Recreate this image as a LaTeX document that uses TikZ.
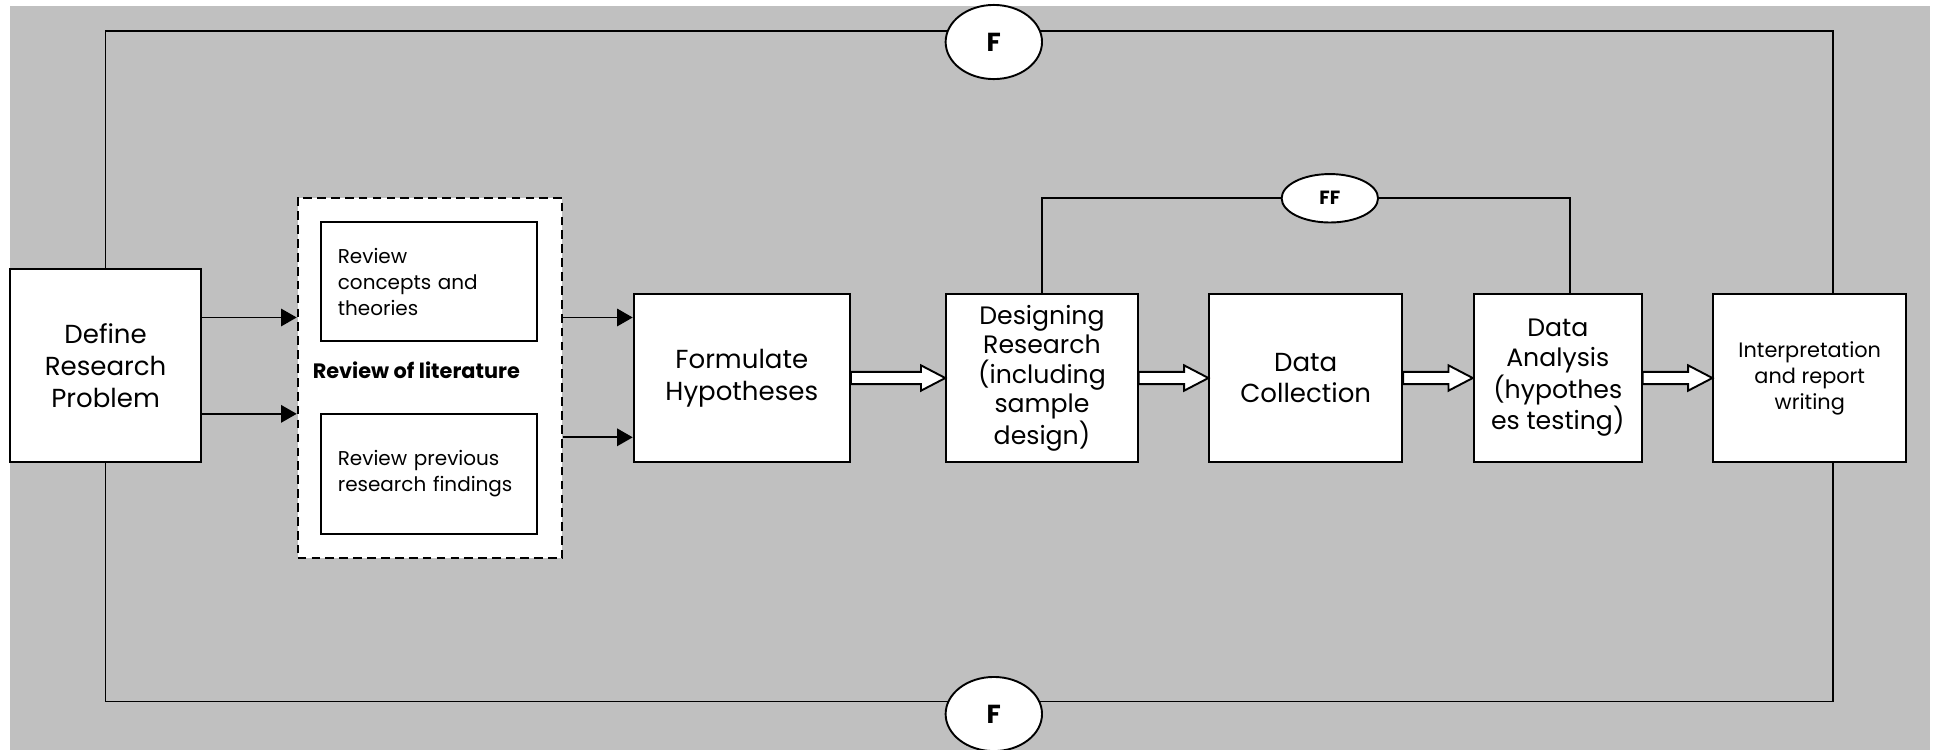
\documentclass[tikz,border=0pt]{standalone}
\usepackage{fontspec}
\setmainfont{Poppins}
\usetikzlibrary{arrows.meta, shapes.geometric, positioning, calc, backgrounds}
\definecolor{bggray}{RGB}{192,192,192}
\hyphenpenalty=10000

\begin{document}
\begin{tikzpicture}[x=0.025cm, y=-0.025cm,
    box/.style={rectangle, draw, line width=1.1pt, fill=white, align=center, inner sep=1pt, minimum height=3.4cm, font=\fontsize{15}{18.4}\selectfont},
    sub/.style={rectangle, draw, line width=1.1pt, fill=white, minimum width=4.375cm, text width=3.7cm, align=left, font=\fontsize{11.5}{15}\selectfont},
    lit/.style={rectangle, draw, line width=1.1pt, dash pattern=on 5pt off 3pt, fill=white, minimum width=5.35cm, minimum height=7.3cm},
    fb/.style={ellipse, draw, line width=1.1pt, fill=white, inner sep=0pt, font=\bfseries\fontsize{15}{15}\selectfont},
    arr/.style={-{Triangle[length=9pt,width=10pt]}, line width=1.1pt},
    hollow/.style={draw, line width=1.1pt, fill=white, to path={let \p1=(\tikztostart), \p2=(\tikztotarget) in
        (\x1,\y1+3.5pt) -- (\x2-14pt,\y1+3.5pt) -- (\x2-14pt,\y1+7.3pt) -- (\p2) -- (\x2-14pt,\y1-7.3pt) -- (\x2-14pt,\y1-3.5pt) -- (\x1,\y1-3.5pt) -- cycle}},
    loop/.style={line width=0.9pt}]
\useasboundingbox (0,0) rectangle (1568,607);

% main steps
\node[box, minimum width=3.875cm, minimum height=3.9cm] (def) at (85.5,296) {Define\\Research\\Problem};
\node[lit] (lit) at (348,306) {};
\node[sub, minimum height=2.4cm] (rc) at (347.5,228) {Review\\concepts and\\theories};
\node[sub, minimum height=2.425cm] (rp) at (347.5,383.5) {Review previous\\research findings};
\node[font=\bfseries\fontsize{12}{14}\selectfont] (littitle) at (337,300) {Review of literature};
\node[box, minimum width=4.375cm] (form) at (600.5,306) {Formulate\\Hypotheses};
\node[box, minimum width=3.875cm, font=\fontsize{14.5}{17}\selectfont] (design) at (843.5,306) {Designing\\Research\\(including\\sample\\design)};
\node[box, minimum width=3.9cm] (coll) at (1057,306) {Data\\Collection};
\node[box, minimum width=3.4cm, font=\fontsize{14.5}{17}\selectfont] (anal) at (1261,306) {Data\\Analysis\\(hypothes\\es testing)};
\node[box, minimum width=3.9cm, font=\fontsize{12}{14.9}\selectfont] (interp) at (1465,306) {Interpretation\\and report\\writing};

% feedback labels
\node[fb, minimum width=1.95cm, minimum height=1.5cm] (ftop) at (804.5,34) {F};
\node[fb, minimum width=1.95cm, minimum height=1.5cm] (fbot) at (804.5,578) {F};
\node[fb, minimum width=1.95cm, minimum height=0.98cm, font=\bfseries\fontsize{11}{11}\selectfont] (ff) at (1076.5,160.5) {FF};

% arrows
\draw[arr] (def.east |- 0,257) -- (lit.west |- 0,257);
\draw[arr] (def.east |- 0,335) -- (lit.west |- 0,335);
\draw[arr] (lit.east |- 0,257) -- (form.west |- 0,257);
\draw[arr] (lit.east |- 0,354) -- (form.west |- 0,354);
\draw[hollow] (form.east) to (design.west);
\draw[hollow] (design.east) to (coll.west);
\draw[hollow] (coll.east) to (anal.west);
\draw[hollow] (anal.east) to (interp.west);

\begin{scope}[on background layer]
\fill[bggray] (8,5) rectangle (1562,607);
\draw[loop] (def.north) |- (ftop |- 0,25) -| ($(interp.north)+(19,0)$);
\draw[loop] (def.south) |- (fbot |- 0,568) -| ($(interp.south)+(19,0)$);
\draw[loop] (design.north) |- (ff) -| ($(anal.north)+(10,0)$);
\end{scope}
\end{tikzpicture}
\end{document}
